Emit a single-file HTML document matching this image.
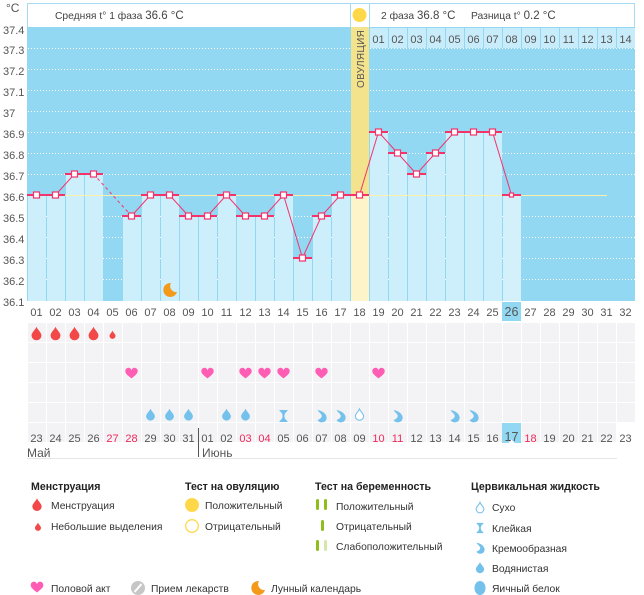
<!DOCTYPE html>
<html><head><meta charset="utf-8">
<style>
html,body{margin:0;padding:0;background:#fff;}
svg{display:block;font-family:"Liberation Sans","DejaVu Sans",sans-serif;}
.t{font-size:11px;fill:#555;}
.l{font-size:10.3px;fill:#333;}
.h{font-size:10.6px;fill:#222;font-weight:bold;}
.hd{font-size:10.3px;fill:#444;}
</style></head>
<body>
<svg width="644" height="595" viewBox="0 0 644 595" xmlns="http://www.w3.org/2000/svg">
<defs>
  <pattern id="cells" x="27" y="323" width="19" height="20" patternUnits="userSpaceOnUse">
    <rect x="1" y="0" width="18" height="19" fill="#f3f3f6"/>
  </pattern>
  <pattern id="top" x="27" y="28" width="19" height="20" patternUnits="userSpaceOnUse">
    <rect x="1" y="0" width="18" height="20" fill="#c9ecfa"/>
  </pattern>
  <path id="drop" d="M0,-8 C1,-5 5.5,-1.5 5.5,1.5 A5.5,5.5 0 0 1 -5.5,1.5 C-5.5,-1.5 -1,-5 0,-8Z"/>
  <path id="heart" d="M0,5 C-3,2.5 -7,0 -7,-3 A3.5,3.5 0 0 1 0,-4 A3.5,3.5 0 0 1 7,-3 C7,0 3,2.5 0,5Z"/>
  <path id="cream" d="M-4,-6 C2,-5 6,-1 5,3 A5,5 0 0 1 -4,4 C-1,3 1,1 0,-1 C-1,-3 -3,-4 -4,-6Z"/>
  <path id="hglass" d="M-4,-6 H4 V-5 C1,-3 1,-1 1,0 C1,1 1,3 4,5 V6 H-4 V5 C-1,3 -1,1 -1,0 C-1,-1 -1,-3 -4,-5Z"/>
  <path id="moon" d="M1,-7 A7,7 0 1 0 7,2 A6,6 0 0 1 1,-7Z"/>
</defs>

<!-- Y axis labels -->
<text x="6" y="12" style="font-size:12px;fill:#555">°C</text>
<g class="t">
<text x="3" y="34">37.4</text>
<text x="3" y="54">37.3</text>
<text x="3" y="75">37.2</text>
<text x="3" y="96">37.1</text>
<text x="3" y="117">37</text>
<text x="3" y="138">36.9</text>
<text x="3" y="159">36.8</text>
<text x="3" y="180">36.7</text>
<text x="3" y="201">36.6</text>
<text x="3" y="222">36.5</text>
<text x="3" y="243">36.4</text>
<text x="3" y="264">36.3</text>
<text x="3" y="285">36.2</text>
<text x="3" y="306">36.1</text>
</g>

<!-- Header -->
<rect x="27.5" y="3.5" width="607" height="24" fill="#fff" stroke="#a6dbf1"/>
<line x1="350.5" y1="3" x2="350.5" y2="27" stroke="#a6dbf1"/>
<line x1="369.5" y1="3" x2="369.5" y2="27" stroke="#a6dbf1"/>
<circle cx="359.5" cy="15" r="7" fill="#ffd84a"/>
<text x="55" y="19" class="hd">Средняя t° 1 фаза <tspan style="font-size:11.5px">36.6 °C</tspan></text>
<text x="381" y="19" class="hd">2 фаза <tspan style="font-size:11.5px">36.8 °C</tspan></text>
<text x="471" y="19" class="hd">Разница t° <tspan style="font-size:11.5px">0.2 °C</tspan></text>

<!-- Chart background -->
<rect x="27" y="27" width="608" height="274" fill="#92d8f2"/>

<!-- grid -->
<g stroke="#ffffff" stroke-width="1" stroke-dasharray="1,2">
<line x1="28" y1="48.5" x2="635" y2="48.5"/>
<line x1="28" y1="69.5" x2="635" y2="69.5"/>
<line x1="28" y1="90.5" x2="635" y2="90.5"/>
<line x1="28" y1="111.5" x2="635" y2="111.5"/>
<line x1="28" y1="132.5" x2="635" y2="132.5"/>
<line x1="28" y1="153.5" x2="635" y2="153.5"/>
<line x1="28" y1="174.5" x2="635" y2="174.5"/>
<line x1="28" y1="216.5" x2="635" y2="216.5"/>
<line x1="28" y1="237.5" x2="635" y2="237.5"/>
<line x1="28" y1="258.5" x2="635" y2="258.5"/>
<line x1="28" y1="279.5" x2="635" y2="279.5"/>
</g>

<!-- top day row (phase 2) -->
<rect x="369" y="28" width="266" height="20" fill="url(#top)"/>
<g class="t" text-anchor="middle">
<text x="378.5" y="43">01</text><text x="397.5" y="43">02</text><text x="416.5" y="43">03</text>
<text x="435.5" y="43">04</text><text x="454.5" y="43">05</text><text x="473.5" y="43">06</text>
<text x="492.5" y="43">07</text><text x="511.5" y="43">08</text><text x="530.5" y="43">09</text>
<text x="549.5" y="43">10</text><text x="568.5" y="43">11</text><text x="587.5" y="43">12</text>
<text x="606.5" y="43">13</text><text x="625.5" y="43">14</text>
</g>

<!-- bars -->
<g fill="#cdeefb">
<rect x="28" y="195" width="18" height="106"/>
<rect x="47" y="195" width="18" height="106"/>
<rect x="66" y="174" width="18" height="127"/>
<rect x="85" y="174" width="18" height="127"/>
<rect x="123" y="216" width="18" height="85"/>
<rect x="142" y="195" width="18" height="106"/>
<rect x="161" y="195" width="18" height="106"/>
<rect x="180" y="216" width="18" height="85"/>
<rect x="199" y="216" width="18" height="85"/>
<rect x="218" y="195" width="18" height="106"/>
<rect x="237" y="216" width="18" height="85"/>
<rect x="256" y="216" width="18" height="85"/>
<rect x="275" y="195" width="18" height="106"/>
<rect x="294" y="258" width="18" height="43"/>
<rect x="313" y="216" width="18" height="85"/>
<rect x="332" y="195" width="18" height="106"/>
<rect x="370" y="132" width="18" height="169"/>
<rect x="389" y="153" width="18" height="148"/>
<rect x="408" y="174" width="18" height="127"/>
<rect x="427" y="153" width="18" height="148"/>
<rect x="446" y="132" width="18" height="169"/>
<rect x="465" y="132" width="18" height="169"/>
<rect x="484" y="132" width="18" height="169"/>
<rect x="503" y="195" width="18" height="106" fill="#d3f0fb"/>
</g>
<!-- ovulation column -->
<rect x="351" y="27" width="18" height="168" fill="#f3e38c"/>
<rect x="351" y="195" width="18" height="106" fill="#fdf4c9"/>
<text transform="translate(364,88) rotate(-90)" style="font-size:10px;fill:#555;letter-spacing:0.3px">ОВУЛЯЦИЯ</text>

<!-- coverline -->
<line x1="28" y1="195.5" x2="607" y2="195.5" stroke="#fbf0a8" stroke-width="1"/>

<!-- bar top lines -->
<g stroke="#f5336b" stroke-width="2">
<line x1="27" y1="195" x2="65" y2="195"/>
<line x1="65" y1="174" x2="103" y2="174"/>
<line x1="122" y1="216" x2="141" y2="216"/>
<line x1="141" y1="195" x2="179" y2="195"/>
<line x1="179" y1="216" x2="217" y2="216"/>
<line x1="217" y1="195" x2="236" y2="195"/>
<line x1="236" y1="216" x2="274" y2="216"/>
<line x1="274" y1="195" x2="293" y2="195"/>
<line x1="293" y1="258" x2="312" y2="258"/>
<line x1="312" y1="216" x2="331" y2="216"/>
<line x1="331" y1="195" x2="369" y2="195"/>
<line x1="369" y1="132" x2="388" y2="132"/>
<line x1="388" y1="153" x2="407" y2="153"/>
<line x1="407" y1="174" x2="426" y2="174"/>
<line x1="426" y1="153" x2="445" y2="153"/>
<line x1="445" y1="132" x2="502" y2="132"/>
<line x1="502" y1="195" x2="521" y2="195"/>
</g>
<!-- connecting lines -->
<polyline fill="none" stroke="#f5336b" stroke-width="1" points="36.5,195 55.5,195 74.5,174 93.5,174"/>
<line x1="93.5" y1="174" x2="131.5" y2="216" stroke="#f5336b" stroke-width="1" stroke-dasharray="3,3"/>
<polyline fill="none" stroke="#f5336b" stroke-width="1" points="131.5,216 150.5,195 169.5,195 188.5,216 207.5,216 226.5,195 245.5,216 264.5,216 283.5,195 302.5,258 321.5,216 340.5,195 359.5,195 378.5,132 397.5,153 416.5,174 435.5,153 454.5,132 473.5,132 492.5,132 511.5,195"/>
<!-- markers -->
<g fill="#fff" stroke="#f5336b" stroke-width="1.2">
<rect x="33.5" y="192" width="6" height="6"/>
<rect x="52.5" y="192" width="6" height="6"/>
<rect x="71.5" y="171" width="6" height="6"/>
<rect x="90.5" y="171" width="6" height="6"/>
<rect x="128.5" y="213" width="6" height="6"/>
<rect x="147.5" y="192" width="6" height="6"/>
<rect x="166.5" y="192" width="6" height="6"/>
<rect x="185.5" y="213" width="6" height="6"/>
<rect x="204.5" y="213" width="6" height="6"/>
<rect x="223.5" y="192" width="6" height="6"/>
<rect x="242.5" y="213" width="6" height="6"/>
<rect x="261.5" y="213" width="6" height="6"/>
<rect x="280.5" y="192" width="6" height="6"/>
<rect x="299.5" y="255" width="6" height="6"/>
<rect x="318.5" y="213" width="6" height="6"/>
<rect x="337.5" y="192" width="6" height="6"/>
<rect x="356.5" y="192" width="6" height="6"/>
<rect x="375.5" y="129" width="6" height="6"/>
<rect x="394.5" y="150" width="6" height="6"/>
<rect x="413.5" y="171" width="6" height="6"/>
<rect x="432.5" y="150" width="6" height="6"/>
<rect x="451.5" y="129" width="6" height="6"/>
<rect x="470.5" y="129" width="6" height="6"/>
<rect x="489.5" y="129" width="6" height="6"/>
<rect x="509.5" y="193" width="4" height="4"/>
</g>
<!-- moon in chart -->
<use href="#moon" transform="translate(170,290)" fill="#f39a1b"/>

<!-- X labels row -->
<rect x="502" y="302" width="19" height="19" fill="#92d8f2"/>
<g class="t" text-anchor="middle">
<text x="36.5" y="316">01</text><text x="55.5" y="316">02</text><text x="74.5" y="316">03</text><text x="93.5" y="316">04</text>
<text x="112.5" y="316">05</text><text x="131.5" y="316">06</text><text x="150.5" y="316">07</text><text x="169.5" y="316">08</text>
<text x="188.5" y="316">09</text><text x="207.5" y="316">10</text><text x="226.5" y="316">11</text><text x="245.5" y="316">12</text>
<text x="264.5" y="316">13</text><text x="283.5" y="316">14</text><text x="302.5" y="316">15</text><text x="321.5" y="316">16</text>
<text x="340.5" y="316">17</text><text x="359.5" y="316">18</text><text x="378.5" y="316">19</text><text x="397.5" y="316">20</text>
<text x="416.5" y="316">21</text><text x="435.5" y="316">22</text><text x="454.5" y="316">23</text><text x="473.5" y="316">24</text>
<text x="492.5" y="316">25</text><text x="511.5" y="316" style="font-size:12.5px">26</text><text x="530.5" y="316">27</text><text x="549.5" y="316">28</text>
<text x="568.5" y="316">29</text><text x="587.5" y="316">30</text><text x="606.5" y="316">31</text><text x="625.5" y="316">32</text>
</g>

<!-- symbol rows -->
<rect x="27" y="323" width="608" height="100" fill="url(#cells)"/>
<rect x="27" y="423" width="589" height="19" fill="url(#cells)"/>

<!-- menstruation -->
<g fill="#f24848">
<use href="#drop" transform="translate(36.5,334) scale(0.9)"/>
<use href="#drop" transform="translate(55.5,334) scale(0.9)"/>
<use href="#drop" transform="translate(74.5,334) scale(0.9)"/>
<use href="#drop" transform="translate(93.5,334) scale(0.9)"/>
<use href="#drop" transform="translate(112.5,335) scale(0.55)"/>
</g>
<!-- hearts -->
<g fill="#ff5cb3">
<use href="#heart" transform="translate(131.5,374) scale(0.88)"/>
<use href="#heart" transform="translate(207.5,374) scale(0.88)"/>
<use href="#heart" transform="translate(245.5,374) scale(0.88)"/>
<use href="#heart" transform="translate(264.5,374) scale(0.88)"/>
<use href="#heart" transform="translate(283.5,374) scale(0.88)"/>
<use href="#heart" transform="translate(321.5,374) scale(0.88)"/>
<use href="#heart" transform="translate(378.5,374) scale(0.88)"/>
</g>
<!-- cervical fluid -->
<g fill="#74c1ec">
<use href="#drop" transform="translate(150.5,415) scale(0.8)"/>
<use href="#drop" transform="translate(169.5,415) scale(0.8)"/>
<use href="#drop" transform="translate(188.5,415) scale(0.8)"/>
<use href="#drop" transform="translate(226.5,415) scale(0.8)"/>
<use href="#drop" transform="translate(245.5,415) scale(0.8)"/>
<use href="#hglass" transform="translate(283.5,416)"/>
<use href="#cream" transform="translate(321.5,416)"/>
<use href="#cream" transform="translate(340.5,416)"/>
<use href="#cream" transform="translate(397.5,416)"/>
<use href="#cream" transform="translate(454.5,416)"/>
<use href="#cream" transform="translate(473.5,416)"/>
</g>
<use href="#drop" transform="translate(359.5,415) scale(0.75)" fill="#fff" stroke="#74c1ec" stroke-width="1.4"/>

<!-- date row -->
<rect x="502" y="423" width="19" height="20" fill="#92d8f2"/>
<path d="M508.5,443 L511.5,439.5 L514.5,443Z" fill="#fff"/>
<g class="t" text-anchor="middle">
<text x="36.5" y="442">23</text><text x="55.5" y="442">24</text><text x="74.5" y="442">25</text><text x="93.5" y="442">26</text>
<text x="112.5" y="442" style="fill:#f0285a">27</text><text x="131.5" y="442" style="fill:#f0285a">28</text><text x="150.5" y="442">29</text><text x="169.5" y="442">30</text>
<text x="188.5" y="442">31</text><text x="207.5" y="442">01</text><text x="226.5" y="442">02</text><text x="245.5" y="442" style="fill:#f0285a">03</text>
<text x="264.5" y="442" style="fill:#f0285a">04</text><text x="283.5" y="442">05</text><text x="302.5" y="442">06</text><text x="321.5" y="442">07</text>
<text x="340.5" y="442">08</text><text x="359.5" y="442">09</text><text x="378.5" y="442" style="fill:#f0285a">10</text><text x="397.5" y="442" style="fill:#f0285a">11</text>
<text x="416.5" y="442">12</text><text x="435.5" y="442">13</text><text x="454.5" y="442">14</text><text x="473.5" y="442">15</text>
<text x="492.5" y="442">16</text><text x="511.5" y="441" style="font-size:12.5px">17</text><text x="530.5" y="442" style="fill:#f0285a">18</text><text x="549.5" y="442">19</text>
<text x="568.5" y="442">20</text><text x="587.5" y="442">21</text><text x="606.5" y="442">22</text><text x="625.5" y="442">23</text>
</g>
<line x1="198.5" y1="428" x2="198.5" y2="457" stroke="#555" stroke-width="1"/>
<text x="27" y="457" style="font-size:12px;fill:#555">Май</text>
<text x="202" y="457" style="font-size:12px;fill:#555">Июнь</text>
<line x1="27" y1="458.5" x2="617" y2="458.5" stroke="#e6e6e6" stroke-width="1"/>

<!-- Legend -->
<text x="31" y="490" class="h">Менструация</text>
<use href="#drop" transform="translate(37,505) scale(0.85)" fill="#f24848"/>
<text x="51" y="509" class="l">Менструация</text>
<use href="#drop" transform="translate(38,527) scale(0.55)" fill="#f24848"/>
<text x="51" y="530" class="l">Небольшие выделения</text>

<text x="185" y="490" class="h">Тест на овуляцию</text>
<circle cx="192" cy="505" r="7" fill="#ffd84a"/>
<text x="205" y="509" class="l">Положительный</text>
<circle cx="192" cy="526" r="6.3" fill="#fff" stroke="#ffd84a" stroke-width="1.3"/>
<text x="205" y="530" class="l">Отрицательный</text>

<text x="315" y="490" class="h">Тест на беременность</text>
<rect x="316" y="499" width="3" height="11" rx="1.5" fill="#8fbd1c"/>
<rect x="324" y="499" width="3" height="11" rx="1.5" fill="#8fbd1c"/>
<text x="336" y="510" class="l">Положительный</text>
<rect x="321" y="520" width="3" height="11" rx="1.5" fill="#8fbd1c"/>
<text x="336" y="530" class="l">Отрицательный</text>
<rect x="316" y="540" width="3" height="11" rx="1.5" fill="#8fbd1c"/>
<rect x="324" y="540" width="3" height="11" rx="1.5" fill="#d6e7ab"/>
<text x="336" y="550" class="l">Слабоположительный</text>

<text x="471" y="490" class="h">Цервикальная жидкость</text>
<use href="#drop" transform="translate(480,508) scale(0.7)" fill="#fff" stroke="#74c1ec" stroke-width="1.5"/>
<text x="492" y="511" class="l">Сухо</text>
<use href="#hglass" transform="translate(480,528) scale(0.85)" fill="#74c1ec"/>
<text x="492" y="532" class="l">Клейкая</text>
<use href="#cream" transform="translate(480,548) scale(0.9)" fill="#74c1ec"/>
<text x="492" y="552" class="l">Кремообразная</text>
<use href="#drop" transform="translate(480,568) scale(0.75)" fill="#74c1ec"/>
<text x="492" y="572" class="l">Водянистая</text>
<ellipse cx="480" cy="588" rx="5.5" ry="7" fill="#74c1ec"/>
<text x="492" y="592" class="l">Яичный белок</text>

<use href="#heart" transform="translate(37,588) scale(0.9)" fill="#ff5cb3"/>
<text x="51" y="592" class="l">Половой акт</text>
<circle cx="138" cy="588" r="7" fill="#c6c6c6"/>
<line x1="134.5" y1="592" x2="141.5" y2="584" stroke="#fff" stroke-width="2"/>
<text x="151" y="592" class="l">Прием лекарств</text>
<use href="#moon" transform="translate(258,588)" fill="#f39a1b"/>
<text x="271" y="592" class="l">Лунный календарь</text>
</svg>
</body></html>
